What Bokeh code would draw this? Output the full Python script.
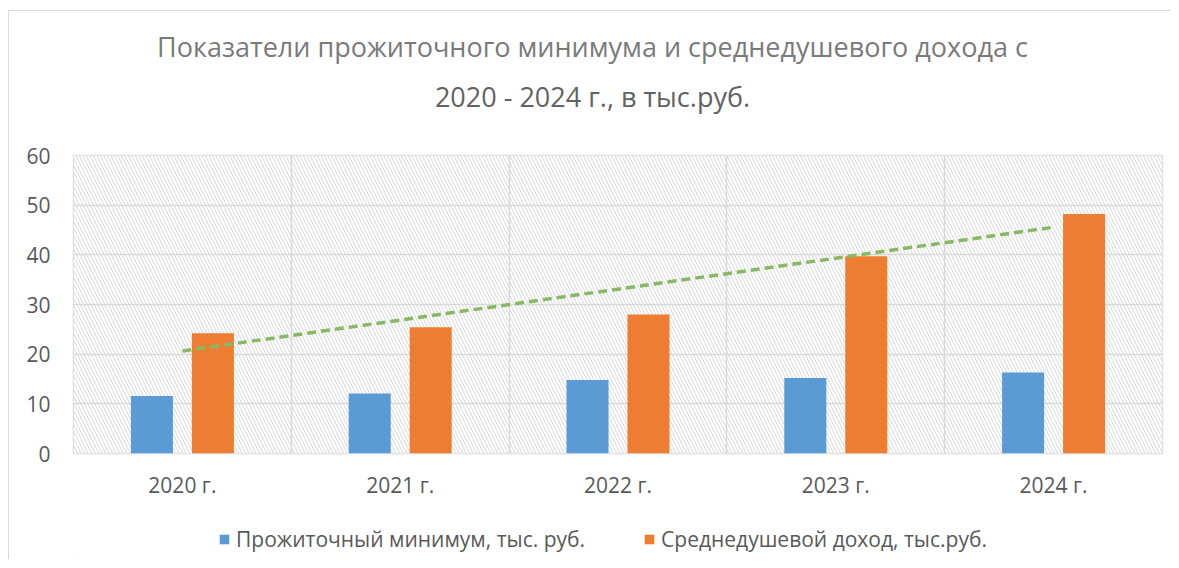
import numpy as np
from bokeh.plotting import figure
from bokeh.layouts import column
from bokeh.models import Range1d, FixedTicker, Legend, LegendItem
from bokeh.embed import file_html
from bokeh.resources import INLINE

years = ["2020 г.", "2021 г.", "2022 г.", "2023 г.", "2024 г."]
subsistence = [11.6, 12.1, 14.8, 15.2, 16.3]
income = [24.2, 25.4, 28.0, 39.7, 48.2]
y_ticks = [0, 10, 20, 30, 40, 50, 60]
series_names = ["Прожиточный минимум, тыс. руб.", "Среднедушевой доход, тыс.руб."]
title_lines = ["Показатели прожиточного минимума и среднедушевого дохода с",
               "2020 - 2024 г., в тыс.руб."]

FONT = "Open Sans"
GRID = "#d9d9d9"
TXT = "#595959"
BLUE, ORANGE, GREEN = "#5b9bd5", "#ed7d31", "#87b863"
FS = "21px"

n = len(years)
centers = np.arange(n) + 0.5
FW, FH = 1089, 298
LEFT, RIGHT = 64, 8
TOP_H = 128

def strip(height):
    f = figure(frame_width=FW, frame_height=height, x_range=Range1d(0, FW),
               y_range=Range1d(0, height), output_backend="svg",
               toolbar_location=None, min_border_left=LEFT,
               min_border_right=RIGHT, min_border_top=0, min_border_bottom=0)
    f.axis.visible = False
    f.grid.visible = False
    f.outline_line_color = None
    f.background_fill_color = "white"
    f.border_fill_color = "white"
    return f

# ---- title strip
top = strip(TOP_H)
top.text(x=[519, 519], y=[TOP_H - 35, TOP_H - 85], text=title_lines,
         text_align="center", text_baseline="alphabetic",
         text_font={"value": FONT}, text_font_size={"value": "27px"},
         text_color=["#7a7a7a", "#626262"])

# ---- main chart
p = figure(frame_width=FW, frame_height=FH,
           x_range=Range1d(0, n), y_range=Range1d(0, 60),
           output_backend="svg", toolbar_location=None,
           min_border_left=LEFT, min_border_right=RIGHT,
           min_border_top=16, min_border_bottom=46)
p.outline_line_color = GRID
p.outline_line_width = 1.5
p.background_fill_color = "white"
p.border_fill_color = "white"

p.quad(left=[0], right=[n], bottom=[0], top=[60], fill_color="white",
       line_color=None, hatch_pattern="\\", hatch_color="#d6d6d6",
       hatch_scale=7, hatch_weight=1.0, level="image")

p.xgrid.ticker = FixedTicker(ticks=list(range(n + 1)))
p.ygrid.ticker = FixedTicker(ticks=y_ticks)
for g in (p.xgrid, p.ygrid):
    g.grid_line_color = GRID
    g.grid_line_width = 1.5

p.xaxis.ticker = FixedTicker(ticks=list(centers))
p.xaxis.major_label_overrides = {float(c): y for c, y in zip(centers, years)}
p.yaxis.ticker = FixedTicker(ticks=y_ticks)
for ax in (p.xaxis, p.yaxis):
    ax.axis_line_color = None
    ax.major_tick_line_color = None
    ax.minor_tick_line_color = None
    ax.major_label_text_font = FONT
    ax.major_label_text_font_size = FS
    ax.major_label_text_color = TXT
p.xaxis.major_label_standoff = 11
p.yaxis.major_label_standoff = 17

bw = 0.193
off = 0.14
p.vbar(x=centers - off, top=subsistence, width=bw, bottom=0,
       fill_color=BLUE, line_color=None)
p.vbar(x=centers + off, top=income, width=bw, bottom=0,
       fill_color=ORANGE, line_color=None)

k, b = np.polyfit(np.arange(1, n + 1), income, 1)
tx = [centers[0], centers[-1]]
ty = [k * 1 + b, k * n + b]
p.line(tx, ty, line_color=GREEN, line_width=3.5, line_dash="9 5")

# ---- legend strip (swatch renderers sit outside the visible range)
LEG_H = 58
bot = strip(LEG_H)
lr1 = bot.vbar(x=[-50], top=[1], width=1, fill_color=BLUE, line_color=None)
lr2 = bot.vbar(x=[-50], top=[1], width=1, fill_color=ORANGE, line_color=None)
legend = Legend(items=[LegendItem(label=series_names[0], renderers=[lr1]),
                       LegendItem(label=series_names[1], renderers=[lr2])],
                orientation="horizontal", location=(145, 6),
                glyph_width=12, glyph_height=12, label_standoff=6, spacing=58,
                label_text_font=FONT, label_text_font_size=FS,
                label_text_color=TXT, border_line_color=None,
                background_fill_alpha=0, padding=0, margin=0)
bot.add_layout(legend, "center")

lay = column(top, p, bot, spacing=0)
lay.margin = (10, 0, 0, 8)
lay.styles = {"border-top": "1px solid #d9d9d9", "border-left": "1px solid #d9d9d9"}

open("out.html", "w").write(file_html(lay, INLINE))
